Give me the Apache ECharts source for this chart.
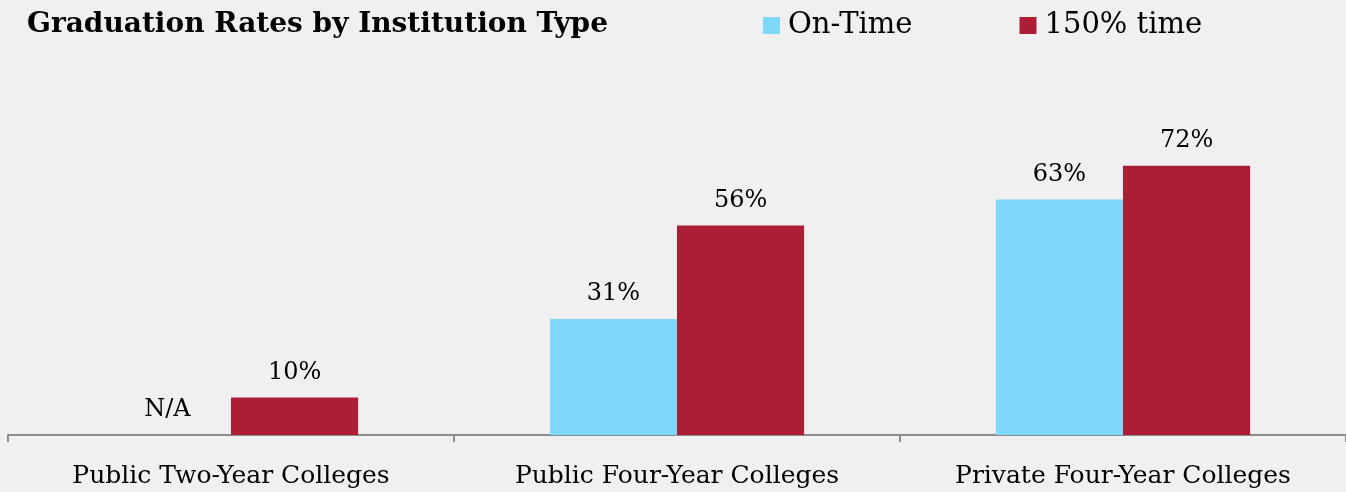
<!DOCTYPE html>
<html>
<head>
<meta charset="utf-8">
<script src="https://cdn.jsdelivr.net/npm/echarts@6/dist/echarts.min.js"></script>
<style>
    html, body { margin: 0; padding: 0; background: #f0f0f0; }
    #chart { width: 1346px; height: 492px; }
</style>
</head>
<body>
<div id="chart"></div>
<script>
    var categories = ['Public Two-Year Colleges', 'Public Four-Year Colleges', 'Private Four-Year Colleges'];
    var onTime = [0, 31, 63];
    var onTimeLabels = ['N/A', '31%', '63%'];
    var time150 = [10, 56, 72];
    var time150Labels = ['10%', '56%', '72%'];

    var FONT = '"DejaVu Serif", serif';

    var chart = echarts.init(document.getElementById('chart'));
    chart.setOption({
        backgroundColor: '#f0f0f0',
        animation: false,
        title: {
            text: 'Graduation Rates by Institution Type',
            left: 22,
            top: 6,
            textStyle: {
                fontFamily: FONT,
                fontWeight: 'bold',
                fontSize: 28,
                color: '#000'
            }
        },
        legend: {
            left: 758,
            top: 6,
            itemWidth: 17,
            itemHeight: 17,
            itemGap: 107,
            icon: 'rect',
            textStyle: {
                fontFamily: FONT,
                fontSize: 29,
                color: '#000',
                padding: [0, 0, 0, 3]
            },
            data: ['On-Time', '150% time']
        },
        grid: {
            left: 8,
            right: 0,
            top: 61,
            bottom: 57,
            containLabel: false
        },
        xAxis: {
            type: 'category',
            data: categories,
            axisLine: { lineStyle: { color: '#8c8c8c', width: 2 } },
            axisTick: { show: true, length: 7, lineStyle: { color: '#8c8c8c', width: 2 } },
            axisLabel: {
                margin: 29,
                fontFamily: FONT,
                fontSize: 25,
                color: '#000'
            }
        },
        yAxis: {
            type: 'value',
            min: 0,
            max: 100,
            show: false,
            splitLine: { show: false }
        },
        series: [
            {
                name: 'On-Time',
                type: 'bar',
                data: onTime,
                barGap: '0%',
                barCategoryGap: '43%',
                itemStyle: { color: '#7dd8f9' },
                label: {
                    show: true,
                    position: 'top',
                    distance: 13,
                    fontFamily: FONT,
                    fontSize: 24,
                    color: '#000',
                    formatter: function (p) { return onTimeLabels[p.dataIndex]; }
                }
            },
            {
                name: '150% time',
                type: 'bar',
                data: time150,
                itemStyle: { color: '#ab1e36' },
                label: {
                    show: true,
                    position: 'top',
                    distance: 13,
                    fontFamily: FONT,
                    fontSize: 24,
                    color: '#000',
                    formatter: function (p) { return time150Labels[p.dataIndex]; }
                }
            }
        ]
    });
</script>
</body>
</html>
